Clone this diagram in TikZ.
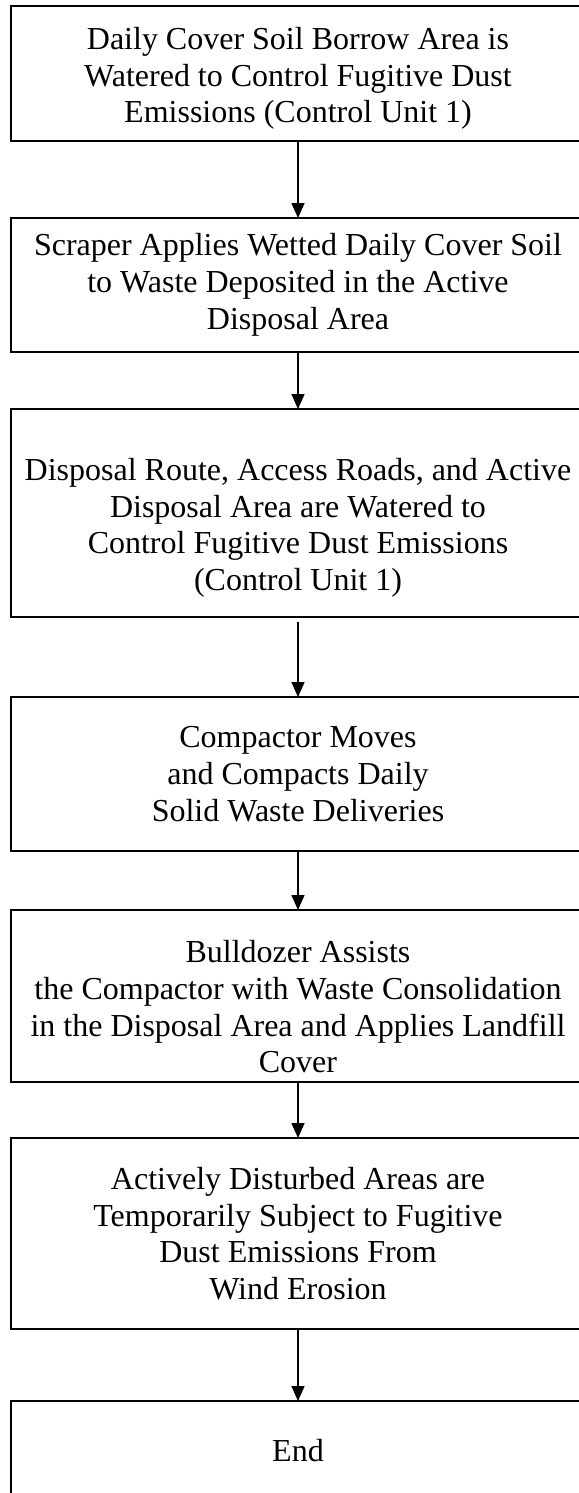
\documentclass[tikz,border=0pt]{standalone}
\usepackage{fontspec}
\setmainfont{Liberation Serif}
\usetikzlibrary{arrows.meta}
\newcommand{\padtop}[1]{\rule{0pt}{#1}}

\tikzset{
  stage/.style={draw, line width=1.5pt, rectangle, minimum width=574pt,
    inner sep=0pt, outer sep=0pt, align=center,
    font=\fontsize{32}{36.7}\selectfont},
  flow/.style={-{Triangle[width=13pt,length=15pt]}, line width=1.5pt}
}

\begin{document}
\begin{tikzpicture}[x=1pt,y=1pt]
\useasboundingbox (0,0) rectangle (578,-1493);
% Process boxes
\node[stage, minimum height=135pt] (borrow) at (298,-73.5)
  {\padtop{32pt}Daily Cover Soil Borrow Area is\\Watered to Control Fugitive Dust\\Emissions (Control Unit 1)};
\node[stage, minimum height=134pt] (scraper) at (298,-285)
  {Scraper Applies Wetted Daily Cover Soil\\to Waste Deposited in the Active\\Disposal Area};
\node[stage, minimum height=208pt] (roads) at (298,-513)
  {\padtop{52pt}Disposal Route, Access Roads, and Active\\Disposal Area are Watered to\\Control Fugitive Dust Emissions\\(Control Unit 1)};
\node[stage, minimum height=154pt] (compactor) at (298,-774)
  {Compactor Moves\\and Compacts Daily\\Solid Waste Deliveries};
\node[stage, minimum height=172pt] (dozer) at (298,-996)
  {\padtop{44pt}Bulldozer Assists\\the Compactor with Waste Consolidation\\in the Disposal Area and Applies Landfill\\Cover};
\node[stage, minimum height=191pt] (wind) at (298,-1233.5)
  {Actively Disturbed Areas are\\Temporarily Subject to Fugitive\\Dust Emissions From\\Wind Erosion};
\node[stage, minimum height=100pt] (finish) at (298,-1451) {End};
% Arrows
\draw[flow] (borrow) -- (scraper);
\draw[flow] (scraper) -- (roads);
\draw[flow, shorten <=5pt] (roads) -- (compactor);
\draw[flow] (compactor) -- (dozer);
\draw[flow] (dozer) -- (wind);
\draw[flow] (wind) -- (finish);
\end{tikzpicture}
\end{document}
